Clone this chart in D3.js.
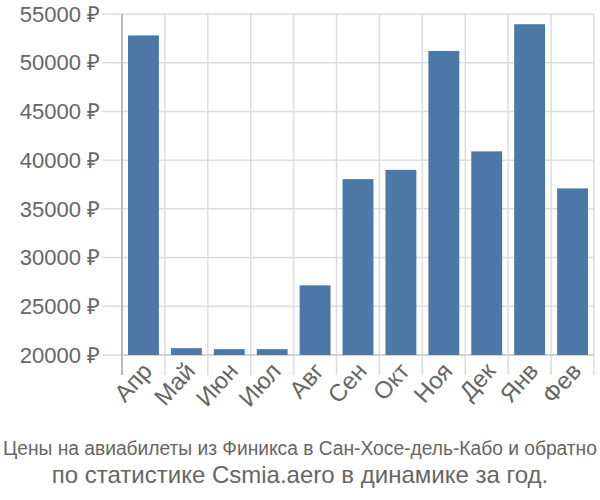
<!DOCTYPE html>
<html><head><meta charset="utf-8">
<script src="https://cdn.jsdelivr.net/npm/d3@7"></script>
<style>body{margin:0;background:#fff}svg{display:block}text{font-family:"Liberation Sans",Arial,sans-serif}</style>
</head><body><svg id="c" width="600" height="500"></svg>
<script>
const months = ["Апр","Май","Июн","Июл","Авг","Сен","Окт","Ноя","Дек","Янв","Фев"];
const prices = [52800,20700,20600,20600,27150,38050,39000,51200,40900,53950,37100];
const yTicks = [20000,25000,30000,35000,40000,45000,50000,55000];
const titleLines = ["Цены на авиабилеты из Финикса в Сан-Хосе-дель-Кабо и обратно","по статистике Csmia.aero в динамике за год."];

const svg = d3.select("#c");
const L=122,R=594,T=14,B=355;
const x = d3.scaleBand().domain(months).range([L,R]).paddingInner(0.28).paddingOuter(0.14);
const xb = d3.scaleBand().domain(months).range([L,R]);
const y = d3.scaleLinear().domain([20000,55000]).range([B,T]);

svg.append("g").selectAll("line").data(yTicks).join("line")
 .attr("x1",102).attr("x2",R).attr("y1",d=>y(d)).attr("y2",d=>y(d))
 .attr("stroke","#ddd").attr("stroke-width",1.5);
const bounds = months.map(m=>xb(m)).concat([R]);
svg.append("g").selectAll("line").data(bounds).join("line")
 .attr("x1",d=>d).attr("x2",d=>d).attr("y1",T).attr("y2",375)
 .attr("stroke","#ddd").attr("stroke-width",1.5);
svg.append("line").attr("x1",L).attr("x2",L).attr("y1",T).attr("y2",375).attr("stroke","#aaa").attr("stroke-width",1.5);
svg.append("line").attr("x1",L).attr("x2",R).attr("y1",B).attr("y2",B).attr("stroke","#ccc").attr("stroke-width",1.5);

svg.append("g").selectAll("rect").data(months).join("rect")
 .attr("x",d=>x(d)).attr("width",x.bandwidth())
 .attr("y",(d,i)=>y(prices[i])).attr("height",(d,i)=>B-y(prices[i]))
 .attr("fill","#4c78a8");

svg.append("g").selectAll("text").data(yTicks).join("text")
 .attr("x",100).attr("y",d=>y(d)).attr("dy","0.35em")
 .attr("text-anchor","end").attr("font-size",22).attr("fill","#666")
 .text(d=>d+" ₽");
svg.append("g").selectAll("text").data(months).join("text")
 .attr("text-anchor","end").attr("font-size",24).attr("fill","#666")
 .attr("transform",d=>`translate(${x(d)+x.bandwidth()/2+10},${372}) rotate(-48)`)
 .text(d=>d);
svg.append("text").attr("text-anchor","middle")
 .attr("transform","translate(300,455) scale(0.915,1)")
 .attr("font-size",21).attr("fill","#666").text(titleLines[0]);
svg.append("text").attr("x",300).attr("y",483).attr("text-anchor","middle")
 .attr("font-size",24).attr("fill","#666").text(titleLines[1]);
</script></body></html>
